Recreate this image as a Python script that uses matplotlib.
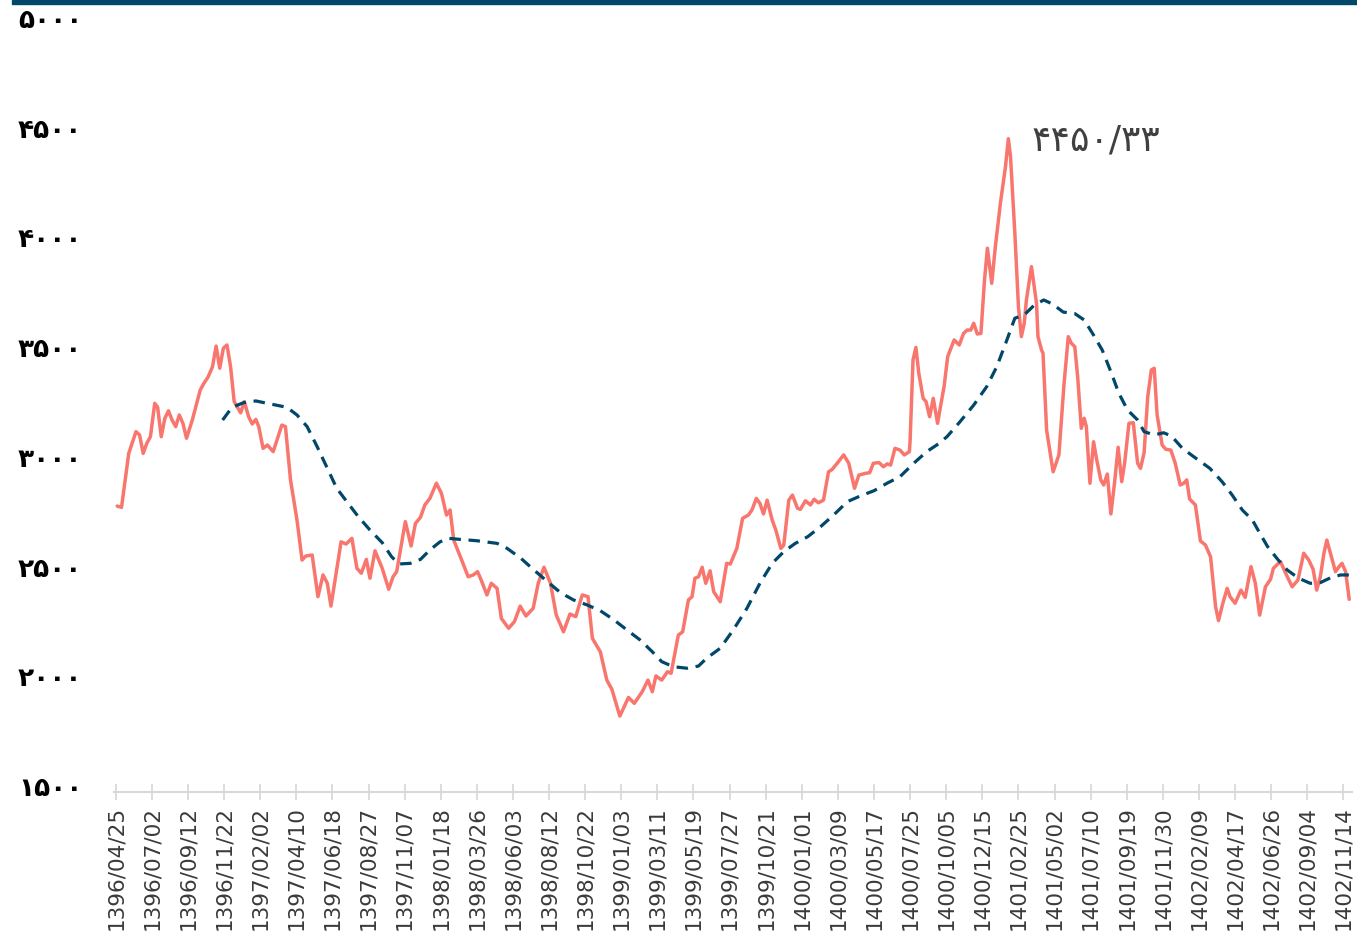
import matplotlib
matplotlib.use("Agg")
import matplotlib.pyplot as plt
from matplotlib.patches import Rectangle

# ---- data ----
tick_labels = ["1396/04/25", "1396/07/02", "1396/09/12", "1396/11/22", "1397/02/02",
               "1397/04/10", "1397/06/18", "1397/08/27", "1397/11/07", "1398/01/18",
               "1398/03/26", "1398/06/03", "1398/08/12", "1398/10/22", "1399/01/03",
               "1399/03/11", "1399/05/19", "1399/07/27", "1399/10/21", "1400/01/01",
               "1400/03/09", "1400/05/17", "1400/07/25", "1400/10/05", "1400/12/15",
               "1401/02/25", "1401/05/02", "1401/07/10", "1401/09/19", "1401/11/30",
               "1402/02/09", "1402/04/17", "1402/06/26", "1402/09/04", "1402/11/14"]
tick_days = [50 * i for i in range(len(tick_labels))]

index_days = [2, 8, 18, 28, 33, 38, 43, 48, 54, 58, 63, 68, 73, 78, 83, 88, 93, 98, 106, 117,
              122, 128, 134, 139, 144, 149, 154, 159, 164, 173, 178, 184, 189, 194, 198, 204,
              210, 218, 230, 235, 242, 251, 258, 263, 272, 280, 287, 293, 298, 312, 319, 327,
              334, 340, 347, 352, 359, 369, 378, 384, 389, 395, 401, 409, 415, 422, 428, 435,
              444, 451, 458, 463, 468, 479, 488, 495, 501, 505, 514, 520, 528, 534, 544, 552,
              560, 568, 578, 585, 593, 602, 610, 620, 629, 637, 646, 654, 660, 671, 680, 687,
              698, 710, 718, 729, 737, 743, 748, 756, 764, 769, 779, 785, 793, 798, 802, 807,
              812, 817, 823, 828, 837, 846, 851, 860, 868, 876, 881, 887, 892, 897, 902, 909,
              914, 921, 925, 932, 937, 944, 948, 955, 962, 967, 973, 980, 987, 992, 999, 1008,
              1015, 1023, 1029, 1038, 1044, 1049, 1057, 1063, 1068, 1073, 1079, 1086, 1092,
              1099, 1100, 1104, 1108, 1112, 1118, 1122, 1127, 1132, 1138, 1142, 1147, 1152,
              1161, 1168, 1174, 1179, 1184, 1188, 1193, 1198, 1203, 1207, 1213, 1218, 1225,
              1232, 1236, 1239, 1245, 1250, 1254, 1258, 1261, 1268, 1275, 1277, 1282, 1284,
              1289, 1298, 1306, 1313, 1319, 1323, 1328, 1332, 1337, 1341, 1344, 1349, 1354,
              1358, 1364, 1368, 1373, 1378, 1383, 1388, 1393, 1397, 1403, 1409, 1415, 1419,
              1424, 1429, 1434, 1438, 1442, 1449, 1454, 1461, 1467, 1474, 1479, 1483, 1487,
              1495, 1502, 1509, 1516, 1523, 1527, 1533, 1539, 1543, 1550, 1558, 1564, 1572,
              1578, 1584, 1592, 1599, 1603, 1610, 1613, 1619, 1629, 1637, 1645, 1652, 1658,
              1663, 1668, 1673, 1677, 1682, 1689, 1694, 1698, 1703, 1708]
index_values = [2776, 2770, 3016, 3115, 3100, 3016, 3062, 3092, 3244, 3226, 3092, 3176, 3210,
                3168, 3138, 3191, 3153, 3085, 3168, 3305, 3335, 3365, 3411, 3505, 3404, 3495,
                3510, 3411, 3252, 3201, 3252, 3183, 3150, 3171, 3138, 3039, 3054, 3024, 3145,
                3138, 2895, 2712, 2530, 2548, 2553, 2363, 2462, 2424, 2320, 2613, 2603, 2629,
                2492, 2470, 2533, 2447, 2572, 2492, 2397, 2454, 2477, 2591, 2705, 2594, 2697,
                2725, 2781, 2811, 2880, 2834, 2735, 2758, 2621, 2530, 2454, 2462, 2477, 2447,
                2371, 2424, 2401, 2264, 2219, 2249, 2320, 2275, 2310, 2424, 2497, 2424, 2279,
                2203, 2284, 2272, 2371, 2363, 2173, 2112, 1983, 1941, 1819, 1904, 1877, 1930,
                1983, 1930, 2002, 1983, 2021, 2014, 2188, 2203, 2348, 2363, 2447, 2454, 2497,
                2424, 2481, 2386, 2340, 2515, 2512, 2583, 2720, 2735, 2758, 2811, 2788, 2740,
                2803, 2712, 2667, 2583, 2598, 2803, 2826, 2766, 2761, 2800, 2781, 2807, 2791,
                2803, 2932, 2943, 2971, 3009, 2971, 2857, 2917, 2925, 2928, 2971, 2974, 2955,
                2968, 2963, 3039, 3031, 3009, 3024, 3077, 3442, 3499, 3381, 3267, 3252, 3183,
                3267, 3153, 3229, 3320, 3457, 3533, 3510, 3563, 3578, 3578, 3609, 3560, 3563,
                3806, 3951, 3791, 3958, 4156, 4322, 4450, 4368, 4019, 3684, 3548, 3609, 3715,
                3867, 3700, 3548, 3487, 3472, 3122, 2932, 3009, 3328, 3548, 3519, 3502, 3365,
                3130, 3176, 3138, 2880, 3069, 2993, 2895, 2872, 2922, 2740, 2880, 3044, 2887,
                2971, 3153, 3156, 2971, 2948, 3019, 3274, 3396, 3404, 3191, 3054, 3035, 3031,
                2972, 2872, 2880, 2895, 2808, 2781, 2617, 2598, 2545, 2317, 2254, 2333, 2401,
                2363, 2333, 2393, 2360, 2500, 2424, 2279, 2408, 2442, 2492, 2515, 2522, 2477,
                2408, 2439, 2561, 2530, 2488, 2393, 2454, 2561, 2621, 2561, 2477, 2500, 2515,
                2477, 2351]

ma_days = [148, 161, 177, 194, 210, 228, 237, 251, 265, 279, 293, 306, 320, 336, 352, 369,
           382, 392, 408, 422, 435, 449, 461, 477, 500, 528, 542, 561, 579, 598, 616, 634,
           653, 671, 690, 708, 726, 743, 756, 772, 791, 807, 818, 837, 855, 874, 892, 909,
           925, 941, 958, 976, 994, 1013, 1031, 1050, 1068, 1086, 1105, 1123, 1139, 1151,
           1169, 1188, 1206, 1220, 1234, 1245, 1258, 1272, 1285, 1297, 1312, 1328, 1341,
           1354, 1366, 1378, 1389, 1401, 1415, 1424, 1438, 1451, 1462, 1477, 1496, 1515,
           1532, 1546, 1560, 1574, 1583, 1595, 1609, 1622, 1638, 1654, 1668, 1682, 1696, 1708]
ma_values = [3168, 3226, 3247, 3255, 3244, 3232, 3226, 3191, 3138, 3046, 2948, 2857, 2796,
             2727, 2667, 2609, 2545, 2512, 2515, 2533, 2576, 2613, 2629, 2624, 2618, 2606,
             2583, 2538, 2485, 2431, 2381, 2348, 2325, 2299, 2257, 2211, 2166, 2112, 2067,
             2044, 2037, 2047, 2082, 2128, 2211, 2310, 2424, 2515, 2568, 2606, 2636, 2682,
             2735, 2796, 2822, 2846, 2880, 2910, 2971, 3024, 3059, 3092, 3160, 3236, 3320,
             3411, 3533, 3632, 3647, 3692, 3715, 3697, 3660, 3653, 3624, 3555, 3487, 3388,
             3290, 3214, 3168, 3115, 3100, 3110, 3095, 3039, 2993, 2948, 2887, 2826, 2758,
             2712, 2659, 2591, 2533, 2485, 2447, 2424, 2427, 2449, 2462, 2462]

y_ticks = [1500, 2000, 2500, 3000, 3500, 4000, 4500, 5000]
peak_label = "۴۴۵۰/۳۳"

# ---- style ----
RED = "#F8766D"
NAVY = "#00476A"
fa_digits = str.maketrans("0123456789", "۰۱۲۳۴۵۶۷۸۹")

fig = plt.figure(figsize=(13.57, 9.36), dpi=100)
fig.patches.append(Rectangle((12 / 1357, 1 - 4 / 936), 1, 4 / 936,
                             transform=fig.transFigure, color=NAVY, zorder=10))

ax = fig.add_axes([114.3 / 1357, (936 - 792) / 936, 1237.8 / 1357, 774 / 936])
ax.plot(index_days, index_values, color=RED, lw=2.5, solid_joinstyle="round",
        solid_capstyle="round", zorder=3)
ax.plot(ma_days, ma_values, color=NAVY, lw=2.3, dashes=(3.6, 2.4), zorder=4)

ax.set_xlim(-2, 1712)
ax.set_ylim(1473, 5000)

for s in ["left", "right", "top"]:
    ax.spines[s].set_visible(False)
ax.spines["bottom"].set_color("#d9d9d9")
ax.spines["bottom"].set_linewidth(1.5)

ax.set_xticks(tick_days)
ax.set_xticklabels(tick_labels, rotation=90, fontsize=15.5, color="#3a3a3a",
                   family="DejaVu Sans")
ax.tick_params(axis="x", direction="inout", length=12, width=1.3, color="#d9d9d9", pad=4)

ax.set_yticks(y_ticks)
ax.set_yticklabels([str(v).translate(fa_digits) for v in y_ticks], fontsize=19,
                   fontweight="bold", color="black", family="DejaVu Sans")
ax.tick_params(axis="y", length=0, pad=23)

ax.text(1268, 4440, peak_label, fontsize=26, color="#404040", ha="left", va="center",
        family="DejaVu Sans")

fig.savefig("out.png", dpi=100)
